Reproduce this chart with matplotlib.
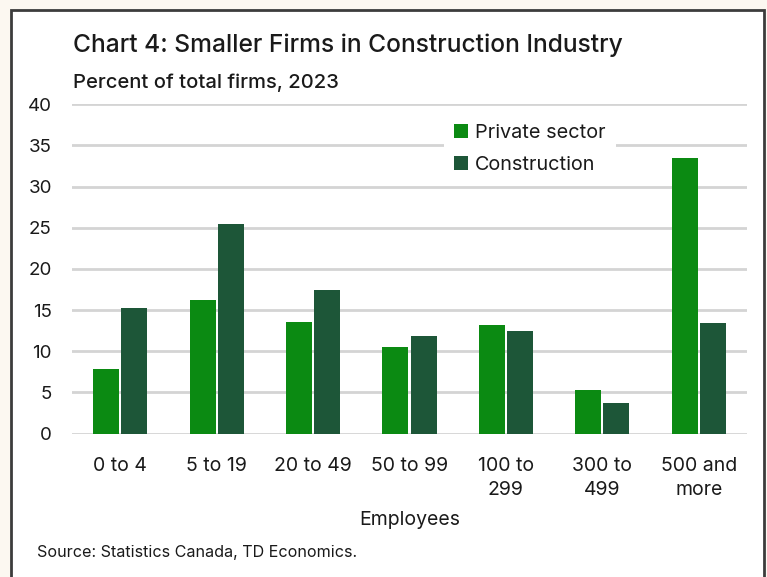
import matplotlib
matplotlib.use("Agg")
import matplotlib.pyplot as plt
import numpy as np
from matplotlib.patches import Patch, Rectangle

# Share of firms by employment size, 2023 (%)
categories = ["0 to 4", "5 to 19", "20 to 49", "50 to 99", "100 to\n299", "300 to\n499", "500 and\nmore"]
private_sector = [7.8, 16.2, 13.5, 10.5, 13.2, 5.3, 33.5]
construction = [15.2, 25.5, 17.4, 11.8, 12.5, 3.7, 13.4]
y_ticks = [0, 5, 10, 15, 20, 25, 30, 35, 40]

GREEN = "#0b8a12"
DARK_GREEN = "#1d5638"
GRID = "#d4d4d4"
TEXT = "#1a1a1a"

plt.rcParams["font.family"] = ["Inter", "DejaVu Sans"]

W, H = 767, 577
fig = plt.figure(figsize=(W / 100, H / 100), dpi=100, facecolor="#fcf8f1")

# white panel with a dark outline, kept behind the axes
fig.patches.append(Rectangle((11 / W, -0.05), (764 - 11) / W, (H - 10) / H + 0.05,
                             transform=fig.transFigure, facecolor="white",
                             edgecolor="#3c3c3c", linewidth=2, zorder=-5))

ax = fig.add_axes([72 / W, 1 - 433.5 / H, (747 - 72) / W, (433.5 - 104.3) / H])
ax.set_facecolor("none")

x = np.arange(len(categories))
w = 0.27
off = 0.146
ax.bar(x - off, private_sector, width=w, color=GREEN, zorder=3)
ax.bar(x + off, construction, width=w, color=DARK_GREEN, zorder=3)

ax.set_xlim(-0.5, len(categories) - 0.5)
ax.set_ylim(0, 40)
ax.set_yticks(y_ticks)
ax.yaxis.grid(True, color=GRID, linewidth=2, zorder=0)
ax.set_axisbelow(True)
for s in ax.spines.values():
    s.set_visible(False)
ax.tick_params(axis="y", length=0, pad=14.5, labelsize=13.5, labelcolor=TEXT)
ax.tick_params(axis="x", length=0, pad=17, labelsize=14, labelcolor=TEXT)
ax.set_xticks(x)
ax.set_xticklabels(categories, linespacing=1.45)
ax.set_xlabel("Employees", fontsize=14, color=TEXT, labelpad=8)

handles = [Patch(facecolor=GREEN), Patch(facecolor=DARK_GREEN)]
leg = fig.legend(handles, ["Private sector", "Construction"], loc="center",
                 bbox_to_anchor=(530 / W, 1 - 149 / H), fontsize=14.3,
                 frameon=True, facecolor="white", edgecolor="none", framealpha=1,
                 handlelength=0.7, handleheight=0.7, handletextpad=0.35,
                 labelspacing=0.7, borderpad=0.5, fancybox=False)
leg.set_zorder(5)
for t in leg.get_texts():
    t.set_color(TEXT)

fig.text(73 / W, 1 - 45 / H, "Chart 4: Smaller Firms in Construction Industry",
         fontsize=17.7, color=TEXT, ha="left", va="center", fontweight="medium")
fig.text(73 / W, 1 - 83 / H, "Percent of total firms, 2023",
         fontsize=14.5, color=TEXT, ha="left", va="center", fontweight="medium")
fig.text(37 / W, 1 - 552 / H, "Source: Statistics Canada, TD Economics.",
         fontsize=11.6, color=TEXT, ha="left", va="center")

fig.savefig("out.png", dpi=100, facecolor=fig.get_facecolor())
